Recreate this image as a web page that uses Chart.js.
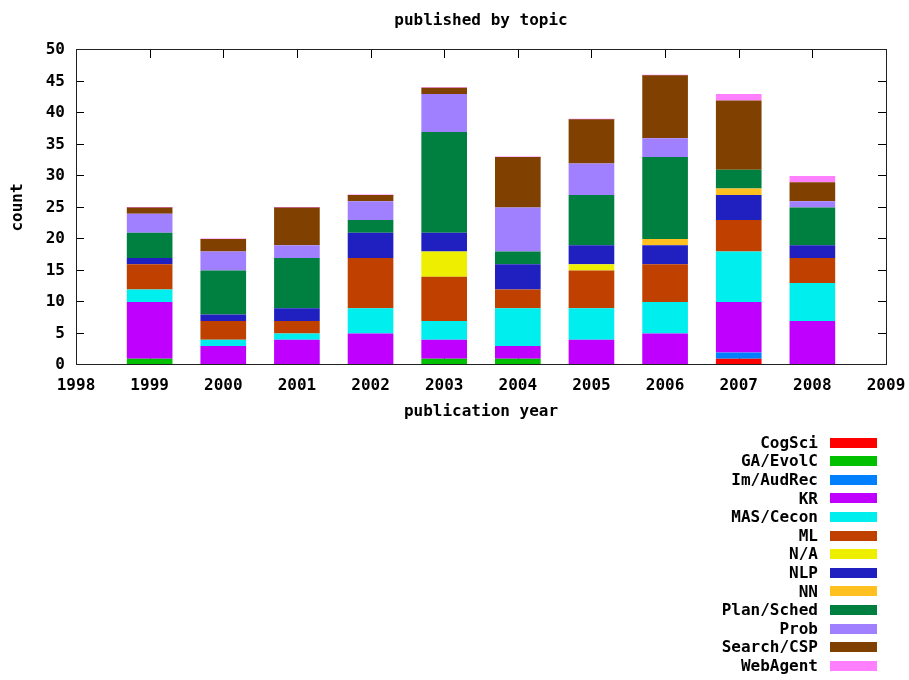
<!DOCTYPE html>
<html>
<head>
<meta charset="utf-8">
<script src="https://cdn.jsdelivr.net/npm/chart.js@4/dist/chart.umd.min.js"></script>
<style>
  html, body { margin: 0; padding: 0; background: #fff; }
  canvas { display: block; }
</style>
</head>
<body>
<canvas id="c" width="909" height="680"></canvas>
<script>
const years = [1999, 2000, 2001, 2002, 2003, 2004, 2005, 2006, 2007, 2008];
const xTickLabels = ["1998","1999","2000","2001","2002","2003","2004","2005","2006","2007","2008","2009"];
const yTickLabels = ["0","5","10","15","20","25","30","35","40","45","50"];
const seriesNames = ["CogSci","GA/EvolC","Im/AudRec","KR","MAS/Cecon","ML","N/A","NLP","NN","Plan/Sched","Prob","Search/CSP","WebAgent"];
const cogSci    = [0,0,0,0,0,0,0,0,1,0];
const gaEvolC   = [1,0,0,0,1,1,0,0,0,0];
const imAudRec  = [0,0,0,0,0,0,0,0,1,0];
const kr        = [9,3,4,5,3,2,4,5,8,7];
const masCecon  = [2,1,1,4,3,6,5,5,8,6];
const ml        = [4,3,2,8,7,3,6,6,5,4];
const na        = [0,0,0,0,4,0,1,0,0,0];
const nlp       = [1,1,2,4,3,4,3,3,4,2];
const nn        = [0,0,0,0,0,0,0,1,1,0];
const planSched = [4,7,8,2,16,2,8,13,3,6];
const prob      = [3,3,2,3,6,7,5,3,0,1];
const searchCsp = [1,2,6,1,1,8,7,10,11,3];
const webAgent  = [0,0,0,0,0,0,0,0,1,1];
const seriesValues = [cogSci, gaEvolC, imAudRec, kr, masCecon, ml, na, nlp, nn, planSched, prob, searchCsp, webAgent];
const colors = ["#ff0000","#00c000","#0080ff","#c000ff","#00eeee","#c04000","#eeee00","#2020c0","#ffc020","#008040","#a080ff","#804000","#ff80ff"];

const FONT = "bold 16px 'DejaVu Sans Mono', monospace";

const datasets = seriesNames.map((name, k) => ({
  label: name,
  data: years.map((yr, i) => ({ x: yr, y: seriesValues[k][i] })),
  backgroundColor: colors[k],
  borderWidth: 0,
  barPercentage: 0.62,
  categoryPercentage: 1.0,
  minBarLength: k === seriesNames.length - 1 ? 1 : 0
}));

const framePlugin = {
  id: 'frame',
  beforeDatasetsDraw(chart) {
    const ctx = chart.ctx, a = chart.chartArea;
    const xs = chart.scales.x, ys = chart.scales.y;
    ctx.save();
    ctx.strokeStyle = '#000';
    ctx.lineWidth = 1;
    ctx.beginPath();
    ys.ticks.forEach(t => {
      const y = Math.round(ys.getPixelForValue(t.value)) - 0.5;
      ctx.moveTo(a.left, y); ctx.lineTo(a.left + 8, y);
      ctx.moveTo(a.right, y); ctx.lineTo(a.right - 8, y);
    });
    xs.ticks.forEach(t => {
      const x = Math.round(xs.getPixelForValue(t.value)) + 0.5;
      ctx.moveTo(x, a.bottom); ctx.lineTo(x, a.bottom - 8);
      ctx.moveTo(x, a.top); ctx.lineTo(x, a.top + 8);
    });
    ctx.stroke();
    ctx.restore();
  },
  afterDatasetsDraw(chart) {
    const ctx = chart.ctx, a = chart.chartArea;
    ctx.save();
    ctx.strokeStyle = '#222';
    ctx.lineWidth = 1;
    ctx.strokeRect(a.left + 0.5, a.top - 0.5, a.right - a.left, a.bottom - a.top);
    ctx.fillStyle = '#000';
    ctx.font = FONT;
    ctx.textAlign = 'center';
    ctx.textBaseline = 'middle';
    const cx = (a.left + a.right) / 2;
    ctx.fillText('published by topic', cx, 21);
    ctx.fillText('publication year', cx, 412);
    ctx.save();
    ctx.translate(18, (a.top + a.bottom) / 2);
    ctx.rotate(-Math.PI / 2);
    ctx.fillText('count', 0, 0);
    ctx.restore();
    // legend
    ctx.textAlign = 'right';
    chart.data.datasets.forEach((ds, i) => {
      const y = 442.5 + i * 18.62;
      ctx.fillStyle = '#000';
      ctx.fillText(ds.label, 818, y + 1);
      ctx.fillStyle = ds.backgroundColor;
      ctx.fillRect(830, Math.round(y - 5), 47, 10);
    });
    ctx.restore();
  }
};

new Chart(document.getElementById('c'), {
  type: 'bar',
  data: { datasets },
  options: {
    responsive: false,
    animation: false,
    devicePixelRatio: 1,
    layout: { padding: { left: 0, top: 50, right: 23, bottom: 255 } },
    plugins: { legend: { display: false }, tooltip: { enabled: false }, title: { display: false } },
    scales: {
      x: {
        type: 'linear', min: 1998, max: 2009, stacked: true, offset: false,
        grid: { display: false, drawTicks: false }, border: { display: false },
        ticks: {
          stepSize: 1, padding: 11, color: '#000', maxRotation: 0, autoSkip: false,
          font: { family: "'DejaVu Sans Mono', monospace", size: 16, weight: 'bold' },
          callback: (v, i) => xTickLabels[i]
        },
        afterFit: s => { s.height = 60; s.paddingLeft = 0; s.paddingRight = 0; }
      },
      y: {
        min: 0, max: 50, stacked: true,
        grid: { display: false, drawTicks: false }, border: { display: false },
        ticks: {
          stepSize: 5, padding: 11, color: '#000',
          font: { family: "'DejaVu Sans Mono', monospace", size: 16, weight: 'bold' },
          callback: (v, i) => yTickLabels[i]
        },
        afterFit: s => { s.width = 76; s.paddingTop = 0; s.paddingBottom = 0; }
      }
    }
  },
  plugins: [framePlugin]
});
</script>
</body>
</html>
